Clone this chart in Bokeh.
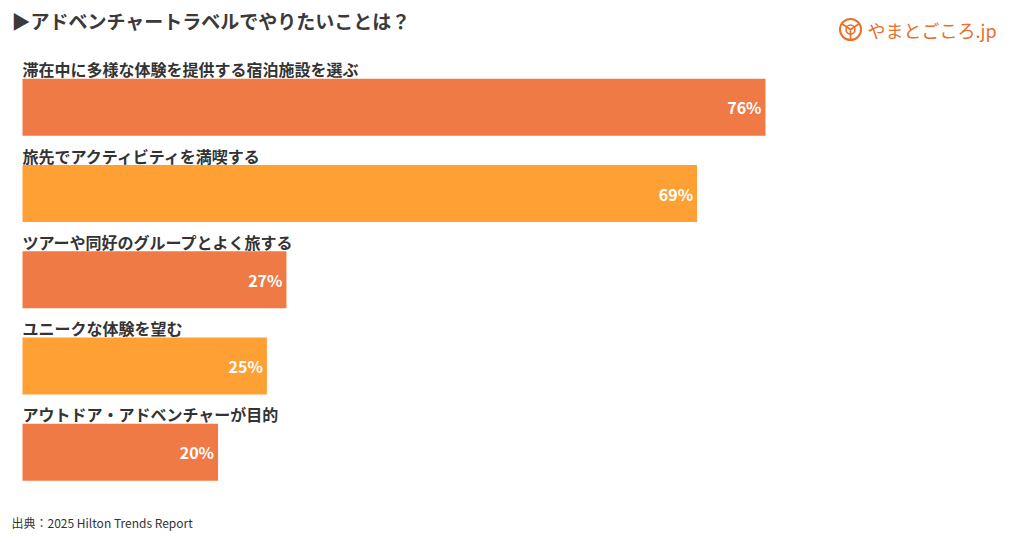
from bokeh.plotting import figure
from bokeh.models import Range1d, ColumnDataSource, Label
from bokeh.core.properties import value
from bokeh.embed import file_html
from bokeh.resources import INLINE

categories = [
    "滞在中に多様な体験を提供する宿泊施設を選ぶ",
    "旅先でアクティビティを満喫する",
    "ツアーや同好のグループとよく旅する",
    "ユニークな体験を望む",
    "アウトドア・アドベンチャーが目的",
]
values = [76, 69, 27, 25, 20]
colors = ["#F07A45", "#FFA034", "#F07A45", "#FFA034", "#F07A45"]

W, H = 1020, 542
px_per_unit = 9.776
left_px = 22
row_px = 86.25
first_center_px = 106.8

p = figure(width=W, height=H, output_backend="svg", toolbar_location=None,
           x_axis_location=None, y_axis_location=None, min_border=0,
           x_range=Range1d(-left_px / px_per_unit, (W - left_px) / px_per_unit),
           y_range=Range1d((H - first_center_px) / row_px, -first_center_px / row_px))
p.grid.visible = False
p.outline_line_color = None
p.background_fill_color = "white"
p.border_fill_color = "white"

idx = list(range(len(categories)))
src = ColumnDataSource(dict(
    y=idx,
    v=values,
    c=colors,
    cat=categories,
    laby=[i - 38 / row_px for i in idx],
    vlab=[f"{v}%" for v in values],
))

p.hbar(y="y", left=0, right="v", height=57 / row_px, fill_color="c", line_color=None, source=src)

p.text(x=0, y="laby", text="cat", source=src, text_font=value("Noto Sans CJK JP"),
       text_font_style="bold", text_font_size="16px", text_color="#333333",
       text_baseline="middle", text_align="left")

p.text(x="v", y="y", text="vlab", source=src, text_font=value("Noto Sans CJK JP"),
       text_font_style="bold", text_font_size="16px", text_color="white",
       text_baseline="middle", text_align="right", x_offset=-4)

title = Label(x=11, y=H - 20, x_units="screen", y_units="screen",
              text="▶アドベンチャートラベルでやりたいことは？",
              text_font="Noto Sans CJK JP", text_font_style="bold",
              text_font_size="19px", text_color="#3a3a3a", text_baseline="middle")
p.add_layout(title)

footer = Label(x=11, y=H - 522, x_units="screen", y_units="screen",
               text="出典：2025 Hilton Trends Report",
               text_font="Noto Sans CJK JP", text_font_size="12px",
               text_color="#333333", text_baseline="middle")
p.add_layout(footer)

logo_col = "#E8702A"
icon_x = (850 - left_px) / px_per_unit
icon_y = (29 - first_center_px) / row_px
p.scatter(x=[icon_x], y=[icon_y], size=21, marker="circle", fill_color=None,
          line_color=logo_col, line_width=2)
p.scatter(x=[icon_x], y=[icon_y], size=9, marker="circle", fill_color=None,
          line_color=logo_col, line_width=1.6)
p.scatter(x=[icon_x], y=[icon_y], size=20, marker="y", line_color=logo_col, line_width=1.6)

logo = Label(x=867, y=H - 29, x_units="screen", y_units="screen",
             text="やまとごころ.jp", text_font="Noto Sans CJK JP",
             text_font_size="18px", text_color=logo_col, text_baseline="middle")
p.add_layout(logo)

open("out.html", "w").write(file_html(p, INLINE))
